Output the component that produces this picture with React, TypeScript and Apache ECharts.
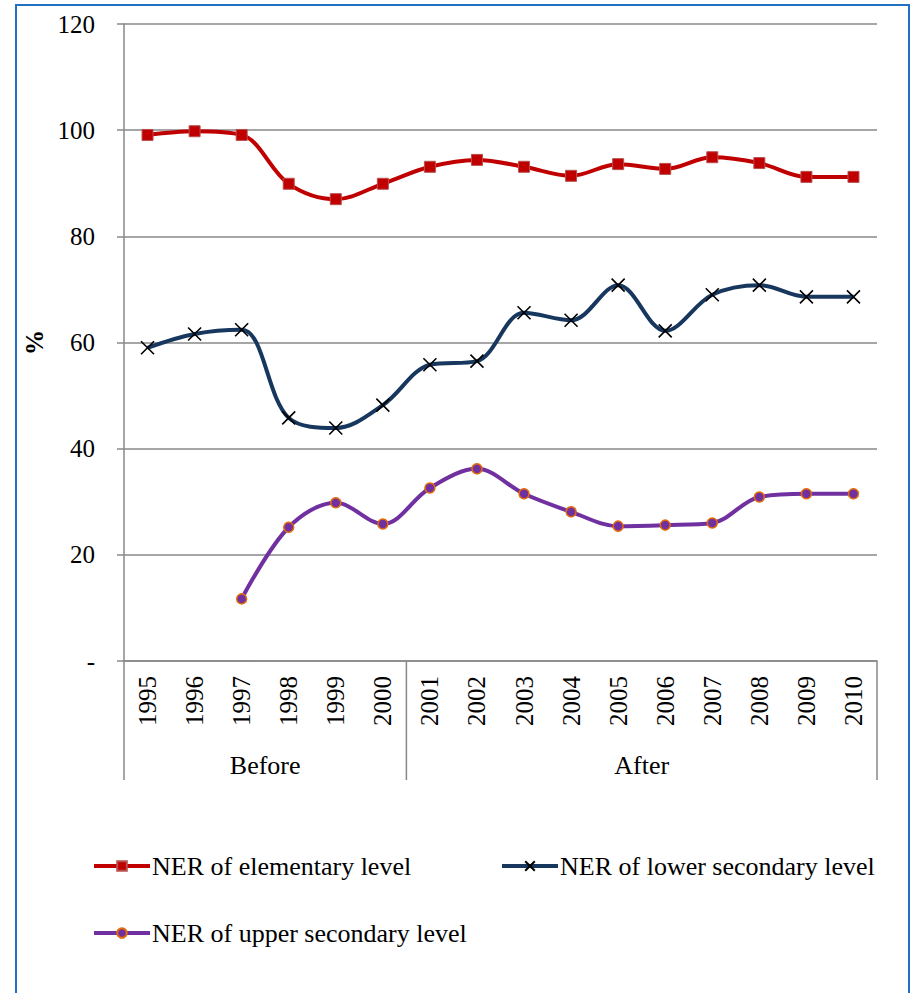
import React, { useEffect, useRef } from "react";
import * as echarts from "echarts";

const years = ["1995", "1996", "1997", "1998", "1999", "2000", "2001", "2002", "2003", "2004", "2005", "2006", "2007", "2008", "2009", "2010"];
const elementary = [99.1, 99.8, 99.1, 89.9, 87.0, 89.9, 93.1, 94.4, 93.1, 91.4, 93.6, 92.7, 94.9, 93.8, 91.2, 91.2];
const lowerSecondary = [59.0, 61.6, 62.4, 45.8, 43.9, 48.2, 55.8, 56.5, 65.6, 64.2, 70.8, 62.2, 69.0, 70.8, 68.6, 68.6];
const upperSecondary = [null, null, 11.7, 25.2, 29.8, 25.8, 32.6, 36.2, 31.5, 28.1, 25.4, 25.6, 26.0, 30.9, 31.5, 31.5];
const periods = [
  { name: "Before", from: 0, to: 5 },
  { name: "After", from: 6, to: 15 },
];
const seriesNames = ["NER of elementary level", "NER of lower secondary level", "NER of upper secondary level"];

const FONT = "Liberation Serif";
const AXIS_FS = 25;
const TEXT_FS = 26;

export default function App() {
  const ref = useRef<HTMLDivElement>(null);
  useEffect(() => {
    if (!ref.current) return;
    const chart = echarts.init(ref.current, null, { renderer: "svg" });
    const legendText = { fontFamily: FONT, fontSize: TEXT_FS, color: "#000", padding: [0, 0, 0, -3] };
    const legendCommon = {
      itemWidth: 56,
      itemHeight: 12,
      padding: 0,
      textStyle: legendText,
      lineStyle: { width: 4 },
    };
    chart.setOption({
      animation: false,
      backgroundColor: "#fff",
      textStyle: { fontFamily: FONT },
      grid: { left: 124, right: 35, top: 24, bottom: 332, containLabel: false },
      xAxis: {
        type: "category",
        data: years,
        boundaryGap: true,
        axisLine: { lineStyle: { color: "#888", width: 1.5 } },
        axisTick: { length: 71, lineStyle: { color: "#888", width: 1.5 } },
        axisLabel: { rotate: 90, margin: 15, fontFamily: FONT, fontSize: AXIS_FS, color: "#000", interval: 0 },
      },
      yAxis: {
        type: "value",
        min: 0,
        max: 120,
        interval: 20,
        name: "%",
        nameLocation: "middle",
        nameGap: 76,
        nameRotate: 90,
        nameTextStyle: { fontFamily: FONT, fontSize: AXIS_FS, fontWeight: "bold", color: "#000" },
        axisLine: { show: true, lineStyle: { color: "#888", width: 1.5 } },
        axisTick: { show: true, length: 7, lineStyle: { color: "#888", width: 1.5 } },
        splitLine: { lineStyle: { color: "#888", width: 1.5 } },
        axisLabel: {
          margin: 29,
          fontFamily: FONT,
          fontSize: AXIS_FS,
          color: "#000",
          formatter: (v: number) => (v === 0 ? "-" : String(v)),
        },
      },
      legend: [
        { ...legendCommon, data: [seriesNames[0]], left: 92, top: 853 },
        { ...legendCommon, data: [seriesNames[1]], left: 500, top: 853 },
        { ...legendCommon, data: [seriesNames[2]], left: 92, top: 920 },
      ],
      series: [
        {
          name: seriesNames[0],
          type: "line",
          data: elementary,
          smooth: 0.35,
          symbol: "rect",
          symbolSize: 11,
          lineStyle: { color: "#C00000", width: 4 },
          itemStyle: { color: "#C00000", borderColor: "#B85050", borderWidth: 1 },
          z: 3,
        },
        {
          name: seriesNames[1],
          type: "line",
          data: lowerSecondary,
          smooth: 0.35,
          symbol: "path://M0,0 L10,10 M10,0 L0,10",
          symbolSize: 13,
          lineStyle: { color: "#17375E", width: 4 },
          itemStyle: { color: "#000", borderColor: "#000", borderWidth: 1.6 },
          z: 2,
        },
        {
          name: seriesNames[2],
          type: "line",
          data: upperSecondary,
          smooth: 0.35,
          symbol: "circle",
          symbolSize: 10,
          lineStyle: { color: "#7030A0", width: 4 },
          itemStyle: { color: "#7030A0", borderColor: "#E46C0A", borderWidth: 1.5 },
          z: 1,
        },
      ],
    });

    const x0 = chart.convertToPixel({ xAxisIndex: 0 }, 0) as number;
    const x1 = chart.convertToPixel({ xAxisIndex: 0 }, 1) as number;
    const bw = x1 - x0;
    const yBase = chart.convertToPixel({ yAxisIndex: 0 }, 0) as number;
    const graphics: any[] = [
      {
        type: "rect",
        shape: { x: 16, y: 5, width: 893, height: 1010 },
        style: { fill: "none", stroke: "#2171C2", lineWidth: 2 },
        silent: true,
      },
    ];
    const boundaries = new Set<number>();
    periods.forEach((p) => {
      const left = (chart.convertToPixel({ xAxisIndex: 0 }, p.from) as number) - bw / 2;
      const right = (chart.convertToPixel({ xAxisIndex: 0 }, p.to) as number) + bw / 2;
      boundaries.add(Math.round(left * 10) / 10);
      boundaries.add(Math.round(right * 10) / 10);
      graphics.push({
        type: "text",
        x: (left + right) / 2,
        y: yBase + 104,
        style: { text: p.name, fontFamily: FONT, fontSize: TEXT_FS, fill: "#000", align: "center", verticalAlign: "middle" },
      });
    });
    boundaries.forEach((bx) => {
      graphics.push({
        type: "line",
        shape: { x1: bx, y1: yBase, x2: bx, y2: yBase + 119 },
        style: { stroke: "#888", lineWidth: 1.5 },
      });
    });
    chart.setOption({ graphic: graphics });

    return () => chart.dispose();
  }, []);
  return <div ref={ref} style={{ position: "absolute", left: 0, top: 0, width: 912, height: 993 }} />;
}
